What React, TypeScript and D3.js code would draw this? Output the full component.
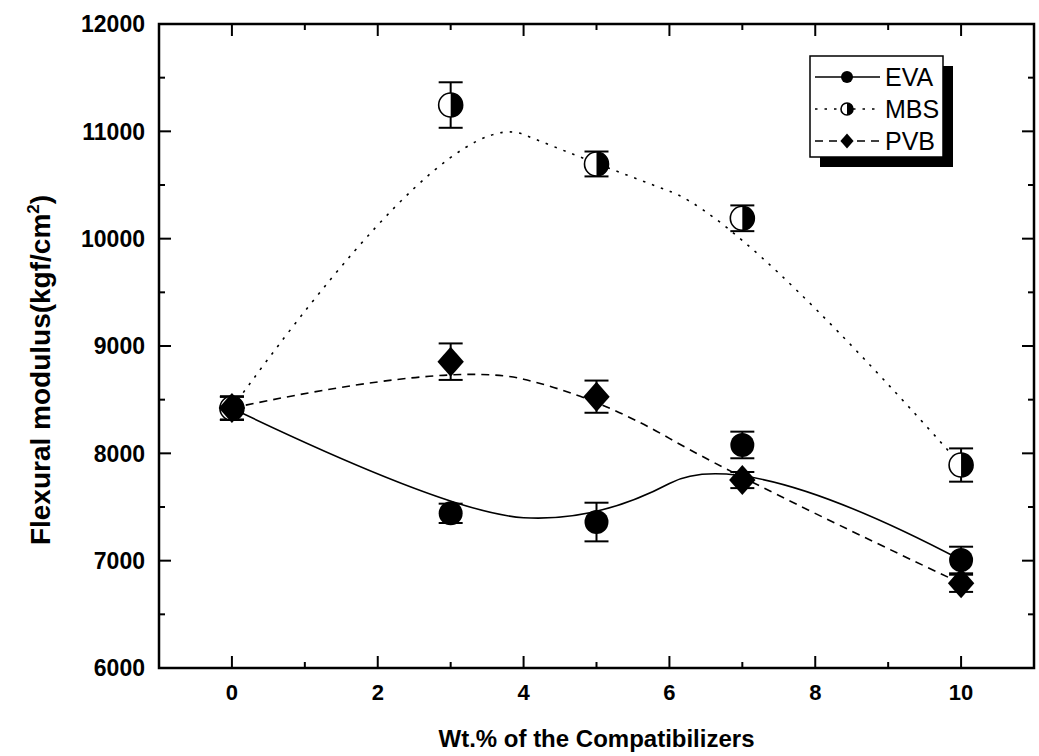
import React from "react";
import * as d3 from "d3";

const xValues = [0, 3, 5, 7, 10];
const evaValues = [8420, 7441, 7360, 8078, 7006];
const evaErrors = [108, 90, 180, 124, 124];
const mbsValues = [8420, 11245, 10696, 10190, 7891];
const mbsErrors = [108, 212, 116, 120, 155];
const pvbValues = [8422, 8854, 8528, 7751, 6789];
const pvbErrors = [108, 170, 150, 75, 80];
const seriesNames = ["EVA", "MBS", "PVB"];
const xTicks = [0, 2, 4, 6, 8, 10];
const xMinorTicks = [-1, 1, 3, 5, 7, 9, 11];
const yTicks = [6000, 7000, 8000, 9000, 10000, 11000, 12000];
const yMinorTicks = [6500, 7500, 8500, 9500, 10500, 11500];

const W = 1039;
const H = 756;
const M = { left: 159, right: 5, top: 24, bottom: 88 };

// Quadratic B-spline (clamped) curve factory for d3.line
function QuadBSpline(this: any, context: any) {
  this._context = context;
}
QuadBSpline.prototype = {
  areaStart() {},
  areaEnd() {},
  lineStart() {
    this._x = [];
    this._y = [];
  },
  point(x: number, y: number) {
    this._x.push(+x);
    this._y.push(+y);
  },
  lineEnd() {
    const xs = this._x, ys = this._y, n = xs.length, c = this._context;
    if (!n) return;
    c.moveTo(xs[0], ys[0]);
    if (n === 2) {
      c.lineTo(xs[1], ys[1]);
      return;
    }
    for (let i = 1; i < n - 1; i++) {
      const last = i === n - 2;
      const ex = last ? xs[n - 1] : (xs[i] + xs[i + 1]) / 2;
      const ey = last ? ys[n - 1] : (ys[i] + ys[i + 1]) / 2;
      c.quadraticCurveTo(xs[i], ys[i], ex, ey);
    }
  },
};
const curveQuadB: any = (ctx: any) => new (QuadBSpline as any)(ctx);

export default function App() {
  const x = d3.scaleLinear().domain([-1, 11]).range([M.left, W - M.right]);
  const y = d3.scaleLinear().domain([6000, 12000]).range([H - M.bottom, M.top]);
  const x0 = x(-1), x1 = x(11), y0 = y(6000), y1 = y(12000);

  const line = d3
    .line<[number, number]>()
    .x((d) => x(d[0]))
    .y((d) => y(d[1]))
    .curve(curveQuadB);

  const series = [
    { name: seriesNames[0], vals: evaValues, errs: evaErrors, dash: "none", marker: "circle" },
    { name: seriesNames[1], vals: mbsValues, errs: mbsErrors, dash: "2.5,7", marker: "half" },
    { name: seriesNames[2], vals: pvbValues, errs: pvbErrors, dash: "8,6", marker: "diamond" },
  ];

  const marker = (type: string, cx: number, cy: number, r: number, key?: any) => {
    if (type === "circle") return <circle key={key} cx={cx} cy={cy} r={r} fill="#000" />;
    if (type === "half")
      return (
        <g key={key} transform={`translate(${cx},${cy})`}>
          <circle r={r} fill="#fff" stroke="#000" strokeWidth={1.6} />
          <path d={`M0,${-r}A${r},${r} 0 0 1 0,${r}Z`} fill="#000" />
        </g>
      );
    const hw = r * 1.1, hh = r * 1.25;
    return (
      <path
        key={key}
        d={`M${cx},${cy - hh}L${cx + hw},${cy}L${cx},${cy + hh}L${cx - hw},${cy}Z`}
        fill="#000"
      />
    );
  };

  const majorLen = 12, minorLen = 6;
  const font = "Arial, 'Liberation Sans', Helvetica, sans-serif";

  const legendX = 810, legendY = 56, legendW = 133, legendH = 101;
  const legendRows = [77, 109, 141];

  return (
    <svg width={W} height={H} style={{ position: "absolute", left: 0, top: 0, background: "#fff" }}>
      <rect width={W} height={H} fill="#fff" />
      {/* curves */}
      {series.map((s) => (
        <path
          key={s.name}
          d={line(xValues.map((v, i) => [v, s.vals[i]] as [number, number])) || ""}
          fill="none"
          stroke="#000"
          strokeWidth={1.6}
          strokeDasharray={s.dash}
        />
      ))}
      {/* error bars */}
      {series.map((s) =>
        xValues.map((v, i) => {
          const cx = x(v), yt = y(s.vals[i] + s.errs[i]), yb = y(s.vals[i] - s.errs[i]);
          return (
            <g key={s.name + i} stroke="#000" strokeWidth={2}>
              <line x1={cx} x2={cx} y1={yt} y2={yb} />
              <line x1={cx - 12} x2={cx + 12} y1={yt} y2={yt} />
              <line x1={cx - 12} x2={cx + 12} y1={yb} y2={yb} />
            </g>
          );
        })
      )}
      {/* markers */}
      {series.map((s) =>
        xValues.map((v, i) => marker(s.marker, x(v), y(s.vals[i]), 12, s.name + "m" + i))
      )}
      {/* frame */}
      <rect x={x0} y={y1} width={x1 - x0} height={y0 - y1} fill="none" stroke="#000" strokeWidth={2.5} />
      {/* x ticks */}
      {xTicks.map((t) => (
        <g key={"xt" + t} stroke="#000" strokeWidth={2}>
          <line x1={x(t)} x2={x(t)} y1={y0} y2={y0 - majorLen} />
          <line x1={x(t)} x2={x(t)} y1={y1} y2={y1 + majorLen} />
        </g>
      ))}
      {xMinorTicks.map((t) => (
        <g key={"xm" + t} stroke="#000" strokeWidth={2}>
          <line x1={x(t)} x2={x(t)} y1={y0} y2={y0 - minorLen} />
          <line x1={x(t)} x2={x(t)} y1={y1} y2={y1 + minorLen} />
        </g>
      ))}
      {yTicks.map((t) => (
        <g key={"yt" + t} stroke="#000" strokeWidth={2}>
          <line x1={x0} x2={x0 + majorLen} y1={y(t)} y2={y(t)} />
          <line x1={x1} x2={x1 - majorLen} y1={y(t)} y2={y(t)} />
        </g>
      ))}
      {yMinorTicks.map((t) => (
        <g key={"ym" + t} stroke="#000" strokeWidth={2}>
          <line x1={x0} x2={x0 + minorLen} y1={y(t)} y2={y(t)} />
          <line x1={x1} x2={x1 - minorLen} y1={y(t)} y2={y(t)} />
        </g>
      ))}
      {/* tick labels */}
      {xTicks.map((t) => (
        <text key={"xl" + t} x={x(t)} y={700} textAnchor="middle" fontFamily={font} fontWeight="bold" fontSize={22}>
          {t}
        </text>
      ))}
      {yTicks.map((t) => (
        <text
          key={"yl" + t}
          x={145}
          y={y(t)}
          dy="0.36em"
          textAnchor="end"
          fontFamily={font}
          fontWeight="bold"
          fontSize={23}
        >
          {t}
        </text>
      ))}
      {/* axis titles */}
      <text x={(x0 + x1) / 2} y={747} textAnchor="middle" fontFamily={font} fontWeight="bold" fontSize={24}>
        Wt.% of the Compatibilizers
      </text>
      <text
        transform={`translate(50,370) rotate(-90)`}
        textAnchor="middle"
        fontFamily={font}
        fontWeight="bold"
        fontSize={28}
      >
        Flexural modulus(kgf/cm
        <tspan dy={-11} fontSize={17}>2</tspan>
        <tspan dy={11}>)</tspan>
      </text>
      {/* legend */}
      <rect x={legendX + 10} y={legendY + 10} width={legendW} height={legendH} fill="#000" />
      <rect x={legendX} y={legendY} width={legendW} height={legendH} fill="#fff" stroke="#000" strokeWidth={1.5} />
      {series.map((s, i) => (
        <g key={"lg" + s.name}>
          <line
            x1={legendX + 5}
            x2={legendX + 70}
            y1={legendRows[i]}
            y2={legendRows[i]}
            stroke="#000"
            strokeWidth={1.6}
            strokeDasharray={s.dash}
          />
          {marker(s.marker, legendX + 37, legendRows[i], 6)}
          <text
            x={legendX + 75}
            y={legendRows[i]}
            dy="0.36em"
            fontFamily={font}
            fontSize={25}
          >
            {s.name}
          </text>
        </g>
      ))}
    </svg>
  );
}
